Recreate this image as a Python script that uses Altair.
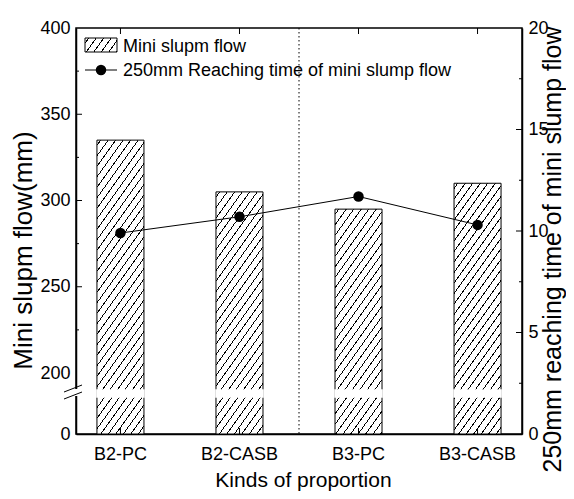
import math
import altair as alt
import pandas as pd

# ---------------- data ----------------
CATS = ["B2-PC", "B2-CASB", "B3-PC", "B3-CASB"]
FLOW = [335, 305, 295, 310]            # mini slump flow (mm)
TIME = [9.9, 10.7, 11.7, 10.3]         # 250mm reaching time
LEFT_TICKS = [200, 250, 300, 350, 400]
LEFT_MINOR = [225, 275, 325, 375]
RIGHT_TICKS = [0, 5, 10, 15, 20]
RIGHT_MINOR = [2.5, 7.5, 12.5, 17.5]
LEGEND_LABELS = ["Mini slupm flow", "250mm Reaching time of mini slump flow"]
X_TITLE = "Kinds of proportion"
YL_TITLE = "Mini slupm flow(mm)"
YR_TITLE = "250mm reaching time of mini slump flow"

# ---------------- geometry / style ----------------
W, H = 446, 406
LTOP = 400
BASE = 164.64            # display value of the broken-axis "0"
PPU = H / (LTOP - BASE)  # pixels per mm
FONT = "Liberation Sans"
P_IN, P_OUT = 0.605, 0.176
STEP = W / (len(CATS) - P_IN + 2 * P_OUT)
BW = STEP * (1 - P_IN)

df = pd.DataFrame({"cat": CATS, "flow": FLOW, "time": TIME})
one = pd.DataFrame({"k": [0]})


def hatch(w, h, k=1.4, s=7.5, lw=0.9):
    L = k * w + h
    c = L / (k * k * w * w + h * h)
    period = k * s
    thick = lw * math.sqrt(k * k + 1)
    stops = [alt.GradientStop(offset=0, color="white")]
    m = period / 2
    while m + thick / 2 < L:
        a = round((m - thick / 2) / L, 5)
        b = round((m + thick / 2) / L, 5)
        stops += [
            alt.GradientStop(offset=a, color="white"),
            alt.GradientStop(offset=a, color="black"),
            alt.GradientStop(offset=b, color="black"),
            alt.GradientStop(offset=b, color="white"),
        ]
        m += period
    stops.append(alt.GradientStop(offset=1, color="white"))
    return alt.LinearGradient(gradient="linear", stops=stops,
                              x1=0, y1=0, x2=c * k * w, y2=c * h)


x_enc = alt.X(
    "cat:N", sort=CATS,
    scale=alt.Scale(paddingInner=P_IN, paddingOuter=P_OUT),
    axis=alt.Axis(title=X_TITLE, labelAngle=0, ticks=False, tickSize=0,
                  labelFontSize=18, labelPadding=11, titleFontSize=21,
                  titleFontWeight="normal", titleX=227, titleY=52,
                  titleBaseline="alphabetic", titleAlign="center"),
)

yl = alt.Y(
    "flow:Q",
    scale=alt.Scale(domain=[BASE, LTOP], nice=False, zero=False),
    axis=alt.Axis(title=YL_TITLE, values=[BASE] + LEFT_TICKS,
                  labelExpr="datum.value < 190 ? '0' : datum.label",
                  ticks=False, tickSize=0, labelFontSize=18, labelPadding=6,
                  titleFontSize=26, titleFontWeight="normal", titleAngle=270,
                  titleX=-45, titleY=222, titleBaseline="alphabetic",
                  titleAlign="center"),
)

yr = alt.Y(
    "time:Q",
    scale=alt.Scale(domain=[0, 20], nice=False, zero=False),
    axis=alt.Axis(title=YR_TITLE, orient="right", values=RIGHT_TICKS,
                  ticks=False, tickSize=0, labelFontSize=18, labelPadding=6,
                  titleFontSize=25, titleFontWeight="normal", titleAngle=270,
                  titleX=38, titleY=221, titleBaseline="alphabetic",
                  titleAlign="center"),
)

# ---- bars (one layer each so every hatch keeps the same angle) ----
bar_layers = []
for c, v in zip(CATS, FLOW):
    h = (v - BASE) * PPU
    bar_layers.append(
        alt.Chart(df).transform_filter(alt.datum.cat == c)
        .mark_bar(color=hatch(BW, h), stroke="black", strokeWidth=1)
        .encode(x=x_enc, y=yl, y2=alt.datum(BASE))
    )

gap = alt.Chart(df).mark_bar(color="white", stroke="white", strokeWidth=1.5).encode(
    x=x_enc, y=alt.value(362), y2=alt.value(369))

left_major = alt.Chart(pd.DataFrame({"flow": LEFT_TICKS[1:-1]})).mark_rule(
    color="black").encode(y=yl, x=alt.value(0), x2=alt.value(6))
left_minor = alt.Chart(pd.DataFrame({"flow": LEFT_MINOR})).mark_rule(
    color="black").encode(y=yl, x=alt.value(0), x2=alt.value(3))

x_bot = alt.Chart(df).mark_rule(color="black").encode(
    x=x_enc, y=alt.value(H - 6), y2=alt.value(H))
x_top = alt.Chart(df).mark_rule(color="black").encode(
    x=x_enc, y=alt.value(0), y2=alt.value(6))

sep = alt.Chart(one).mark_rule(color="black", strokeDash=[1.5, 2.5], strokeWidth=1).encode(
    x=alt.value(W / 2), y=alt.value(0), y2=alt.value(H))

# axis break symbol
brk_white = alt.Chart(one).mark_rect(color="white").encode(
    x=alt.value(-3), x2=alt.value(3), y=alt.value(361), y2=alt.value(368))
brk1 = alt.Chart(one).mark_rule(color="black", strokeWidth=1).encode(
    x=alt.value(-12), x2=alt.value(6), y=alt.value(364), y2=alt.value(357))
brk2 = alt.Chart(one).mark_rule(color="black", strokeWidth=1).encode(
    x=alt.value(-12), x2=alt.value(6), y=alt.value(371), y2=alt.value(364))

# legend
leg_rect = alt.Chart(one).mark_rect(color=hatch(32, 14), stroke="black", strokeWidth=1).encode(
    x=alt.value(9), x2=alt.value(41), y=alt.value(10), y2=alt.value(24))
leg_line = alt.Chart(one).mark_rule(color="black", strokeWidth=1).encode(
    x=alt.value(9), x2=alt.value(41), y=alt.value(42))
leg_dot = alt.Chart(one).mark_point(filled=True, color="black", size=110, opacity=1).encode(
    x=alt.value(25), y=alt.value(42))
leg_t1 = alt.Chart(one).mark_text(align="left", baseline="alphabetic", fontSize=18,
                                  font=FONT, color="black").encode(
    x=alt.value(47), y=alt.value(24), text=alt.value(LEGEND_LABELS[0]))
leg_t2 = alt.Chart(one).mark_text(align="left", baseline="alphabetic", fontSize=18,
                                  font=FONT, color="black").encode(
    x=alt.value(47), y=alt.value(48), text=alt.value(LEGEND_LABELS[1]))

left = alt.layer(*bar_layers, gap, left_major, left_minor, x_bot, x_top, sep,
                 brk_white, brk1, brk2, leg_rect, leg_line, leg_dot, leg_t1, leg_t2)

# ---- right axis series ----
line = alt.Chart(df).mark_line(color="black", strokeWidth=1).encode(x=x_enc, y=yr)
pts = alt.Chart(df).mark_point(filled=True, color="black", size=110, opacity=1).encode(
    x=x_enc, y=yr)
right_major = alt.Chart(pd.DataFrame({"time": RIGHT_TICKS[1:-1]})).mark_rule(
    color="black").encode(y=yr, x=alt.value(W - 6), x2=alt.value(W))
right_minor = alt.Chart(pd.DataFrame({"time": RIGHT_MINOR})).mark_rule(
    color="black").encode(y=yr, x=alt.value(W - 3), x2=alt.value(W))

right = alt.layer(line, pts, right_major, right_minor)

chart = (
    alt.layer(left, right)
    .resolve_scale(y="independent")
    .properties(width=W, height=H,
                autosize=alt.AutoSizeParams(type="none"),
                padding={"left": 68, "top": 20, "right": 44, "bottom": 57})
    .configure_view(stroke="black", strokeWidth=1.5)
    .configure_axis(labelFont=FONT, titleFont=FONT, labelColor="black",
                    titleColor="black", domainColor="black", domainWidth=1.5,
                    grid=False)
)

chart.save("out.html", embed_options={"renderer": "svg", "actions": False})
